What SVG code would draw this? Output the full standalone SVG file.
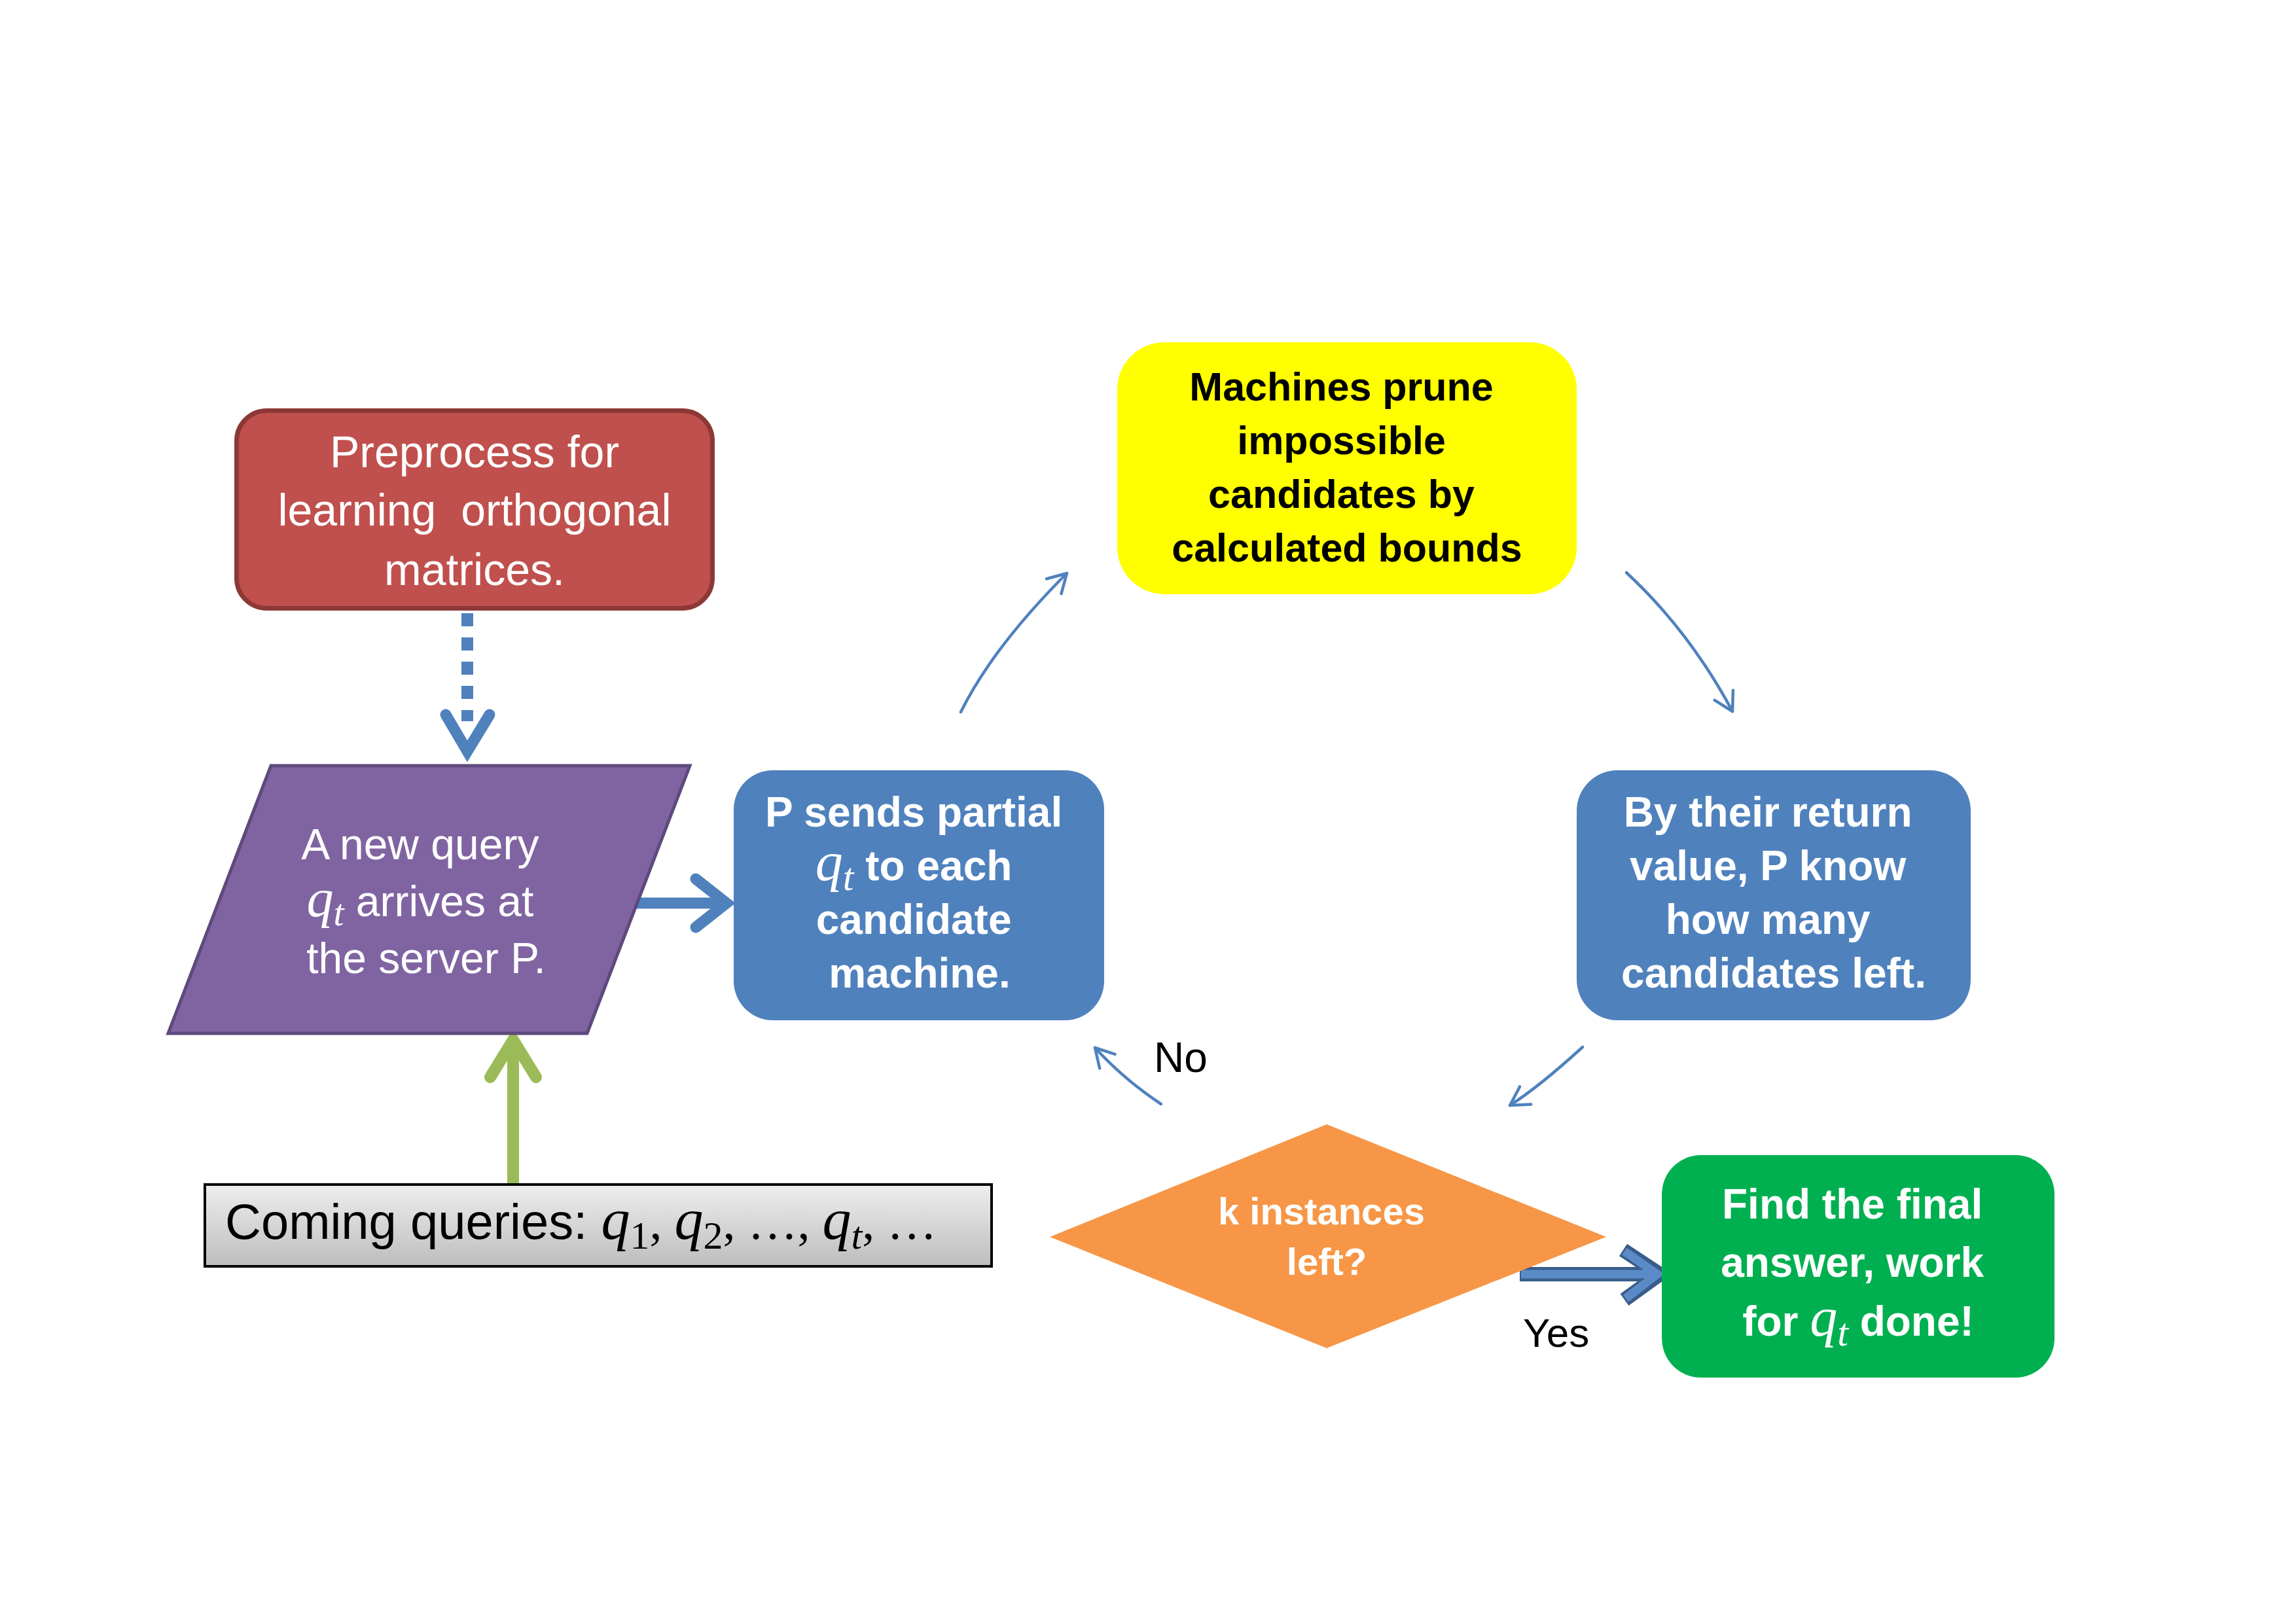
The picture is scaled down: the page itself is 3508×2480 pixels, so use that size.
<svg xmlns="http://www.w3.org/2000/svg" width="3508" height="2480" viewBox="0 0 3508 2480">
<style>
.sans{font-family:"Liberation Sans",Arial,sans-serif}
.w{fill:#ffffff}
.k{fill:#000000}
.b{font-weight:bold}
.m{font-family:"Liberation Serif","Times New Roman",serif;font-style:italic;font-weight:normal}
.mu{font-family:"Liberation Serif","Times New Roman",serif;font-style:normal;font-weight:normal}
.thick{fill:none;stroke:#4F81BD;stroke-width:17;stroke-linecap:round;stroke-linejoin:miter}
.thin{fill:none;stroke:#4F81BD;stroke-width:4.5;stroke-linecap:round}
</style>
<defs>
<linearGradient id="grayg" x1="0" y1="0" x2="0" y2="1">
<stop offset="0" stop-color="#EEEEEE"/>
<stop offset="1" stop-color="#BDBDBD"/>
</linearGradient>
<marker id="openhead" markerUnits="userSpaceOnUse" markerWidth="60" markerHeight="60" viewBox="-40 -30 60 60" refX="0" refY="0" orient="auto" overflow="visible">
<path d="M-28,-16 L0,0 L-28,16" fill="none" stroke="#4F81BD" stroke-width="4.5" stroke-linecap="round" stroke-linejoin="round"/>
</marker>
</defs>
<rect x="0" y="0" width="3508" height="2480" fill="#ffffff"/>

<g id="connectors">
<line x1="714" y1="937" x2="714" y2="1102" stroke="#4F81BD" stroke-width="18" stroke-dasharray="20 17"/>
<path class="thick" d="M681,1092 L714,1148 L748,1092"/>
<path class="thick" d="M971,1380 H1108"/>
<path class="thick" d="M1063,1343 L1110,1380 L1063,1417"/>
<line x1="784" y1="1808" x2="784" y2="1595" stroke="#9BBB59" stroke-width="18"/>
<path d="M749,1646 L784,1589 L819,1646" fill="none" stroke="#9BBB59" stroke-width="18" stroke-linecap="round" stroke-linejoin="miter"/>
<path class="thin" d="M1468,1088 Q1517,989 1630,876" marker-end="url(#openhead)"/>
<path class="thin" d="M2485,875 Q2581,964 2647,1087" marker-end="url(#openhead)"/>
<path class="thin" d="M2418,1600 Q2351,1661 2307,1689" marker-end="url(#openhead)"/>
<path class="thin" d="M1774,1687 Q1718,1650 1673,1601" marker-end="url(#openhead)"/>
<g id="yes-arrow">
<path d="M2322,1947 H2528 M2480,1910 L2536,1947 L2482,1986" fill="none" stroke="#385D8A" stroke-width="22" stroke-linejoin="miter"/>
<path d="M2324,1947 H2526 M2482,1912 L2532,1947 L2484,1984" fill="none" stroke="#5B8BC7" stroke-width="13" stroke-linejoin="miter"/>
</g>
<text class="sans k" x="1763" y="1638" font-size="64">No</text>
<text class="sans k" x="2327" y="2058" font-size="62">Yes</text>
</g>

<g id="preprocess">
<rect x="361.5" y="627.5" width="727" height="302" rx="46" fill="#C0504D" stroke="#8C3836" stroke-width="7"/>
<text class="sans w" font-size="68" text-anchor="middle" xml:space="preserve"><tspan x="725" y="714">Preprocess for</tspan><tspan x="725" y="803">learning  orthogonal</tspan><tspan x="725" y="894">matrices.</tspan></text>
</g>

<g id="new-query">
<polygon points="414,1170 1054,1170 897,1579 257,1579" fill="#8064A2" stroke="#5E4A7C" stroke-width="5"/>
<text class="sans w" font-size="66" text-anchor="middle">
<tspan x="651" y="1313">A new query</tspan>
<tspan x="651" y="1400"><tspan class="m" font-size="82">q</tspan><tspan class="m" font-size="58" dy="14">t</tspan><tspan dy="-14"> arrives at</tspan></tspan>
<tspan x="651" y="1487">the server P.</tspan>
</text>
</g>

<g id="send">
<rect x="1121" y="1177" width="566" height="382" rx="60" fill="#4F81BD"/>
<text class="sans w b" font-size="64" text-anchor="middle">
<tspan x="1405" y="1263">P sends partial</tspan>
<tspan x="1405" y="1345"><tspan class="m" font-size="84">q</tspan><tspan class="m" font-size="60" dy="15">t</tspan><tspan dy="-15"> to each</tspan></tspan>
<tspan x="1405" y="1427">candidate</tspan>
<tspan x="1405" y="1509">machine.</tspan>
</text>
</g>

<g id="prune">
<rect x="1707" y="523" width="702" height="385" rx="72" fill="#FFFF00"/>
<text class="sans k b" font-size="61" text-anchor="middle">
<tspan x="2058" y="612">Machines prune</tspan>
<tspan x="2058" y="694">impossible</tspan>
<tspan x="2058" y="776">candidates by</tspan>
<tspan x="2058" y="858">calculated bounds</tspan>
</text>
</g>

<g id="count">
<rect x="2409" y="1177" width="602" height="382" rx="62" fill="#4F81BD"/>
<text class="sans w b" font-size="64" text-anchor="middle">
<tspan x="2710" y="1263">By their return</tspan>
<tspan x="2710" y="1345">value, P know</tspan>
<tspan x="2710" y="1427">how many</tspan>
<tspan x="2710" y="1509">candidates left.</tspan>
</text>
</g>

<g id="decision">
<polygon points="1604,1890 2027,1718 2454,1890 2027,2060" fill="#F79646"/>
<text class="sans w b" font-size="58" text-anchor="middle">
<tspan x="2027" y="1871">k instances</tspan>
<tspan x="2027" y="1948">left?</tspan>
</text>
</g>

<g id="final">
<rect x="2539" y="1765" width="600" height="340" rx="60" fill="#00B050"/>
<text class="sans w b" font-size="64" text-anchor="middle">
<tspan x="2839" y="1862">Find the final</tspan>
<tspan x="2839" y="1951">answer, work</tspan>
<tspan x="2839" y="2041">for <tspan class="m" font-size="84">q</tspan><tspan class="m" font-size="60" dy="15">t</tspan><tspan dy="-15"> done!</tspan></tspan>
</text>
</g>

<g id="queries">
<rect x="313" y="1810" width="1202" height="125" fill="url(#grayg)" stroke="#000000" stroke-width="4"/>
<text class="sans k" x="344" y="1893" font-size="76">Coming queries: <tspan class="m" font-size="88">q</tspan><tspan class="mu" font-size="60" dy="15">1</tspan><tspan class="mu" dy="-15">, </tspan><tspan class="m" font-size="88">q</tspan><tspan class="mu" font-size="60" dy="15">2</tspan><tspan class="mu" dy="-15">, …, </tspan><tspan class="m" font-size="88">q</tspan><tspan class="m" font-size="60" dy="15">t</tspan><tspan class="mu" dy="-15">, …</tspan></text>
</g>
</svg>
